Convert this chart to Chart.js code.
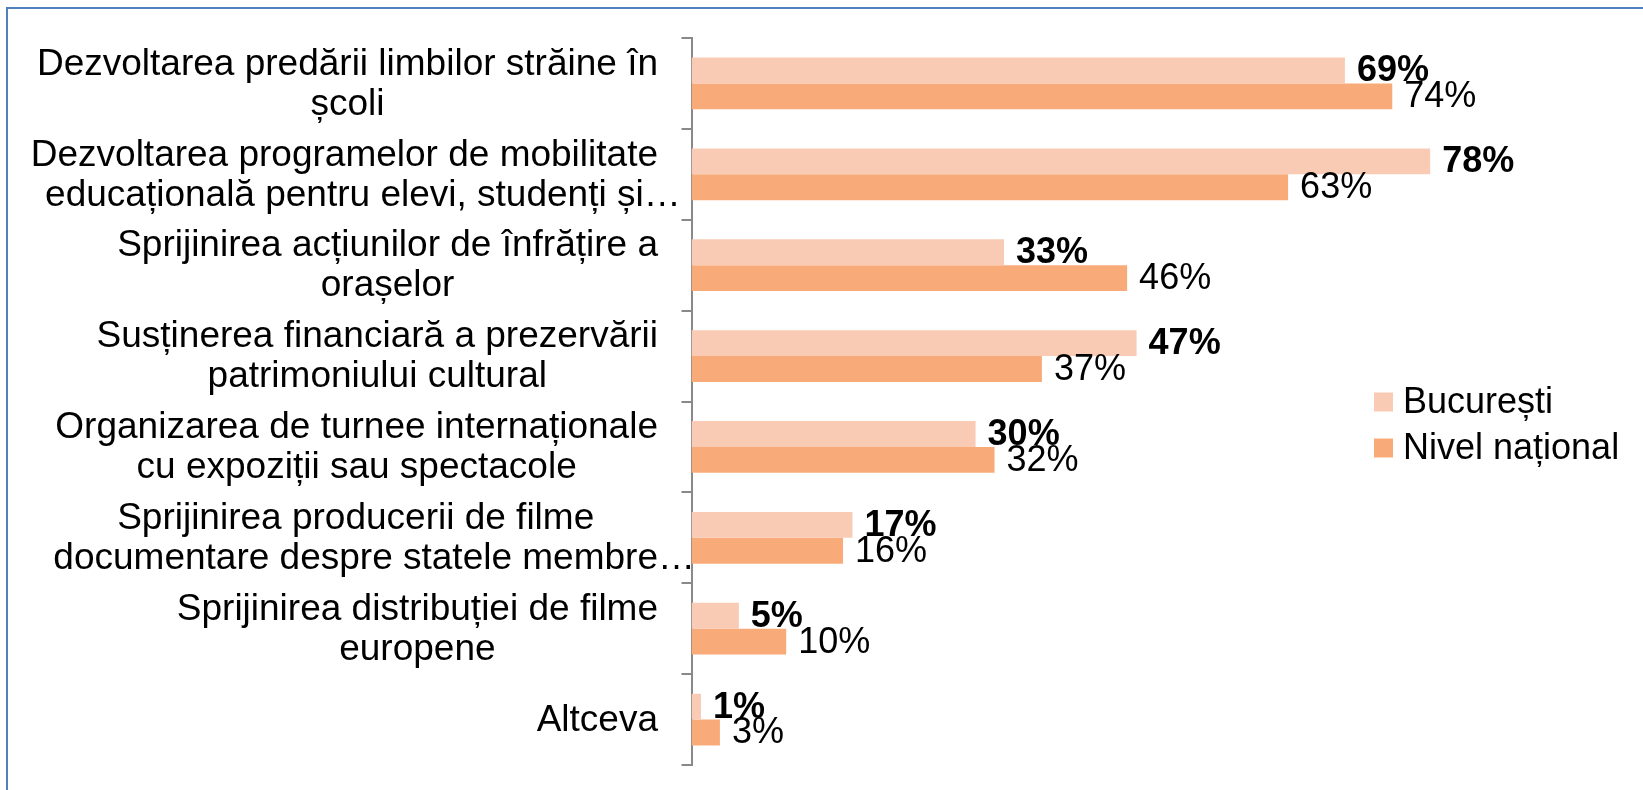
<!DOCTYPE html>
<html><head><meta charset="utf-8">
<script src="https://cdn.jsdelivr.net/npm/chart.js@4.4.0/dist/chart.umd.min.js"></script>
<style>
html,body{margin:0;padding:0;background:#fff;overflow:hidden;}
#wrap{position:relative;width:1643px;height:790px;}
#frame{position:absolute;left:6px;top:7px;width:1700px;height:900px;border:2px solid #4F81BD;box-sizing:border-box;pointer-events:none;}
canvas{position:absolute;left:0;top:0;}
</style></head>
<body><div id="wrap"><canvas id="c" width="1643" height="790"></canvas><div id="frame"></div></div>
<script>
const categories = [
  ["Dezvoltarea predării limbilor străine în", "școli"],
  ["Dezvoltarea programelor de mobilitate", "educațională pentru elevi, studenți și…"],
  ["Sprijinirea acțiunilor de înfrățire a", "orașelor"],
  ["Susținerea financiară a prezervării", "patrimoniului cultural"],
  ["Organizarea de turnee internaționale", "cu expoziții sau spectacole"],
  ["Sprijinirea producerii de filme", "documentare despre statele membre…"],
  ["Sprijinirea distribuției de filme", "europene"],
  ["Altceva"]
];
const seriesNames = ["București", "Nivel național"];
const bucuresti = [69, 78, 33, 47, 30, 17, 5, 1];
const national = [74, 63, 46, 37, 32, 16, 10, 3];
const seriesColors = ["#F9CBB5", "#F8AB78"];

const FONT = '"Liberation Sans", Arial, sans-serif';

const textPlugin = {
  id: 'textPlugin',
  afterDraw(chart) {
    const ctx = chart.ctx;
    const yScale = chart.scales.y;
    ctx.save();
    ctx.fillStyle = '#000';
    ctx.textBaseline = 'middle';
    ctx.textAlign = 'left';
    // category labels: block right-aligned, lines centred inside block
    ctx.font = '37px ' + FONT;
    const blockRight = yScale.right - 33.5;
    categories.forEach((lines, i) => {
      const yc = yScale.getPixelForTick(i);
      const core = lines.map(l => ctx.measureText(l.replace(/…$/, '')).width);
      const blockW = Math.max(...core);
      const cx = blockRight - blockW / 2;
      lines.forEach((l, j) => {
        const y = yc + 1 + (j - (lines.length - 1) / 2) * 40;
        ctx.fillText(l, cx - core[j] / 2, y);
      });
    });
    // data labels
    chart.data.datasets.forEach((ds, di) => {
      const meta = chart.getDatasetMeta(di);
      ctx.font = (di === 0 ? 'bold ' : '') + '36px ' + FONT;
      meta.data.forEach((bar, k) => {
        ctx.fillText(ds.data[k] + '%', bar.x + 12, bar.y + 1);
      });
    });
    // legend
    ctx.font = '36px ' + FONT;
    chart.data.datasets.forEach((ds, di) => {
      const y = 402 + di * 46;
      ctx.fillStyle = ds.backgroundColor;
      ctx.fillRect(1374, y - 9.5, 19, 19);
      ctx.fillStyle = '#000';
      ctx.fillText(ds.label, 1403, y + 1);
    });
    ctx.restore();
  }
};

new Chart(document.getElementById('c'), {
  type: 'bar',
  data: {
    labels: categories,
    datasets: [
      { label: seriesNames[0], data: bucuresti, backgroundColor: seriesColors[0], barPercentage: 1, categoryPercentage: 0.57 },
      { label: seriesNames[1], data: national, backgroundColor: seriesColors[1], barPercentage: 1, categoryPercentage: 0.57 }
    ]
  },
  options: {
    indexAxis: 'y',
    responsive: false,
    animation: false,
    devicePixelRatio: 1,
    layout: { padding: { left: 681.5, right: 4.5, top: 38, bottom: 25 } },
    scales: {
      x: { display: false, min: 0, max: 100 },
      y: {
        offset: true,
        grid: { display: true, offset: true, drawOnChartArea: false, drawTicks: true, tickLength: 10, color: '#898989', lineWidth: 2 },
        border: { display: true, color: '#898989', width: 2 },
        ticks: { display: false }
      }
    },
    plugins: { legend: { display: false }, tooltip: { enabled: false } }
  },
  plugins: [textPlugin]
});
</script>
</body></html>
